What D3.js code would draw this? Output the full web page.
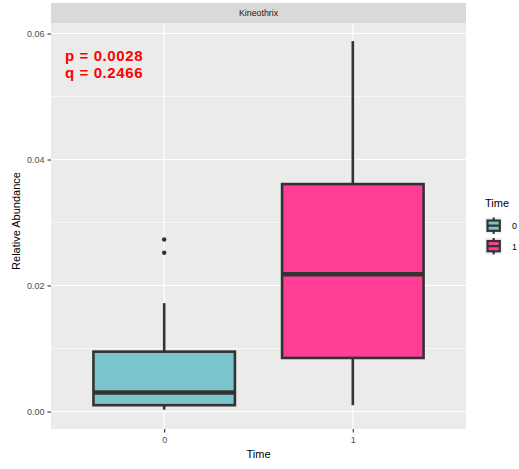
<!DOCTYPE html>
<html>
<head>
<meta charset="utf-8">
<script src="https://cdn.jsdelivr.net/npm/d3@7"></script>
<style>
body { margin: 0; background: #fff; }
text { font-family: "Liberation Sans", Arial, sans-serif; }
</style>
</head>
<body>
<div id="chart"></div>
<script>
// Data
const groups = ["0", "1"];
const whiskerLow = [0.0003, 0.0010];
const q1 = [0.0010, 0.0085];
const median = [0.0030, 0.0218];
const q3 = [0.0095, 0.0361];
const whiskerHigh = [0.0172, 0.0588];
const outliers = [[0.0273, 0.0252], []];
const fills = ["#7AC5CD", "#FF3E96"];
const yTicks = [0, 0.02, 0.04, 0.06];
const yMinor = [0.01, 0.03, 0.05];

const W = 519, H = 469;
const panel = {left: 51, right: 466, top: 23, bottom: 429};

const svg = d3.select("#chart")
.append("svg")
.attr("width", W)
.attr("height", H);

const x = d3.scaleLinear().domain([-0.6, 1.6]).range([panel.left, panel.right]);
const y = d3.scaleLinear().domain([-0.00278, 0.06167]).range([panel.bottom, panel.top]);

// strip
svg.append("rect")
.attr("x", panel.left).attr("y", 3)
.attr("width", panel.right - panel.left).attr("height", 20)
.attr("fill", "#D9D9D9");
svg.append("text")
.attr("x", (panel.left + panel.right) / 2).attr("y", 16)
.attr("text-anchor", "middle")
.attr("font-size", 8.8).attr("fill", "#1A1A1A")
.text("Kineothrix");

// panel background
svg.append("rect")
.attr("x", panel.left).attr("y", panel.top)
.attr("width", panel.right - panel.left).attr("height", panel.bottom - panel.top)
.attr("fill", "#EBEBEB");

// grid
svg.selectAll(".minor").data(yMinor).enter().append("line")
.attr("x1", panel.left).attr("x2", panel.right)
.attr("y1", d => y(d)).attr("y2", d => y(d))
.attr("stroke", "#fff").attr("stroke-width", 0.55);
svg.selectAll(".major").data(yTicks).enter().append("line")
.attr("x1", panel.left).attr("x2", panel.right)
.attr("y1", d => y(d)).attr("y2", d => y(d))
.attr("stroke", "#fff").attr("stroke-width", 1.1);
svg.selectAll(".vgrid").data(groups).enter().append("line")
.attr("x1", (d, i) => x(i)).attr("x2", (d, i) => x(i))
.attr("y1", panel.top).attr("y2", panel.bottom)
.attr("stroke", "#fff").attr("stroke-width", 1.1);

// y axis
const yAxis = svg.append("g")
.attr("transform", `translate(${panel.left},0)`)
.call(d3.axisLeft(y).tickValues(yTicks).tickFormat(d3.format(".2f")).tickSize(3.5).tickPadding(3));
yAxis.select(".domain").remove();
yAxis.selectAll("line").attr("stroke", "#333").attr("stroke-width", 1.1);
yAxis.selectAll("text").attr("font-size", 9).attr("fill", "#4D4D4D")
.attr("font-family", "Liberation Sans, Arial, sans-serif");

// x axis
const xAxis = svg.append("g")
.attr("transform", `translate(0,${panel.bottom})`)
.call(d3.axisBottom(x).tickValues([0, 1]).tickFormat(d => groups[d]).tickSize(3.5).tickPadding(4));
xAxis.select(".domain").remove();
xAxis.selectAll("line").attr("stroke", "#333").attr("stroke-width", 1.1);
xAxis.selectAll("text").attr("font-size", 9).attr("fill", "#4D4D4D")
.attr("font-family", "Liberation Sans, Arial, sans-serif");

// axis titles
svg.append("text")
.attr("x", 258.5).attr("y", 458)
.attr("text-anchor", "middle").attr("font-size", 11).attr("fill", "#000")
.text("Time");
svg.append("text")
.attr("transform", "translate(20,221) rotate(-90)")
.attr("text-anchor", "middle").attr("font-size", 11).attr("fill", "#000")
.text("Relative Abundance");

// boxes
const halfW = 0.375;
const boxes = svg.selectAll(".box").data(groups).enter().append("g");
boxes.append("line")
.attr("x1", (d, i) => x(i)).attr("x2", (d, i) => x(i))
.attr("y1", (d, i) => y(q3[i])).attr("y2", (d, i) => y(whiskerHigh[i]))
.attr("stroke", "#333").attr("stroke-width", 2.6);
boxes.append("line")
.attr("x1", (d, i) => x(i)).attr("x2", (d, i) => x(i))
.attr("y1", (d, i) => y(q1[i])).attr("y2", (d, i) => y(whiskerLow[i]))
.attr("stroke", "#333").attr("stroke-width", 2.6);
boxes.append("rect")
.attr("x", (d, i) => x(i - halfW))
.attr("width", (d, i) => x(i + halfW) - x(i - halfW))
.attr("y", (d, i) => y(q3[i]))
.attr("height", (d, i) => y(q1[i]) - y(q3[i]))
.attr("fill", (d, i) => fills[i])
.attr("stroke", "#333").attr("stroke-width", 2.6);
boxes.append("line")
.attr("x1", (d, i) => x(i - halfW)).attr("x2", (d, i) => x(i + halfW))
.attr("y1", (d, i) => y(median[i])).attr("y2", (d, i) => y(median[i]))
.attr("stroke", "#333").attr("stroke-width", 4.5);
boxes.each(function(d, i) {
  d3.select(this).selectAll("circle").data(outliers[i]).enter().append("circle")
  .attr("cx", x(i)).attr("cy", v => y(v)).attr("r", 2.2).attr("fill", "#333");
});

// annotation
svg.append("text")
.attr("x", 65).attr("y", 61)
.attr("font-size", 15).attr("font-weight", "bold").attr("letter-spacing", 0.6).attr("fill", "#FF0000")
.text("p = 0.0028");
svg.append("text")
.attr("x", 65).attr("y", 77.5)
.attr("font-size", 15).attr("font-weight", "bold").attr("letter-spacing", 0.6).attr("fill", "#FF0000")
.text("q = 0.2466");

// legend
const lg = svg.append("g").attr("transform", "translate(485,0)");
lg.append("text").attr("x", 0).attr("y", 207)
.attr("font-size", 11).attr("fill", "#000").text("Time");
groups.forEach((g, i) => {
  const ky = 217 + i * 20.5;
  const k = lg.append("g").attr("transform", `translate(0,${ky})`);
  k.append("rect").attr("x", 0).attr("y", 0).attr("width", 17.3).attr("height", 17.3).attr("fill", "#F2F2F2");
  k.append("line").attr("x1", 8.65).attr("x2", 8.65).attr("y1", 0.5).attr("y2", 16.8)
  .attr("stroke", "#333").attr("stroke-width", 2.2);
  k.append("rect").attr("x", 2.5).attr("y", 3.5).attr("width", 12.3).attr("height", 10.3)
  .attr("fill", fills[i]).attr("stroke", "#333").attr("stroke-width", 2.2);
  k.append("line").attr("x1", 2.5).attr("x2", 14.8).attr("y1", 8.65).attr("y2", 8.65)
  .attr("stroke", "#333").attr("stroke-width", 2.2);
  lg.append("text").attr("x", 27).attr("y", ky + 12)
  .attr("font-size", 8.8).attr("fill", "#000").text(g);
});
</script>
</body>
</html>
